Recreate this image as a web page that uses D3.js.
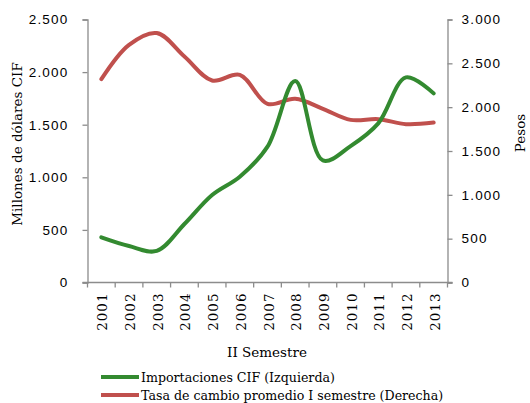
<!DOCTYPE html>
<html>
<head>
<meta charset="utf-8">
<script src="https://cdn.jsdelivr.net/npm/d3@7"></script>
<style>
  html, body { margin: 0; padding: 0; background: #fff; }
  svg { display: block; font-family: "DejaVu Serif", serif; }
</style>
</head>
<body>
<svg id="chart" width="530" height="403"></svg>
<script>
// Years of the second semester
const years = ["2001","2002","2003","2004","2005","2006","2007","2008","2009","2010","2011","2012","2013"];
// CIF imports, millions of dollars (left axis)
const importaciones = [430, 347, 300, 556, 832, 1006, 1291, 1915, 1160, 1297, 1513, 1950, 1798];
// Average exchange rate, first semester, pesos (right axis)
const tasaCambio = [2319, 2711, 2845, 2578, 2304, 2369, 2038, 2095, 1981, 1855, 1863, 1806, 1824];
const leftTicks = [0, 500, 1000, 1500, 2000, 2500];
const rightTicks = [0, 500, 1000, 1500, 2000, 2500, 3000];
const seriesNames = ["Importaciones CIF (Izquierda)", "Tasa de cambio promedio I semestre (Derecha)"];
const colors = ["#338a30", "#c0504d"];

const fmt = v => d3.format(",")(v).replace(/,/g, ".");

const svg = d3.select("#chart");
const m = { left: 87.5, right: 447.5, top: 19.5, bottom: 282.5 };
const axisColor = "#8c8c8c";

const x = d3.scaleBand().domain(years).range([m.left, m.right]);
const yL = d3.scaleLinear().domain([0, 2500]).range([m.bottom, m.top]);
const yR = d3.scaleLinear().domain([0, 3000]).range([m.bottom, m.top]);

function styleAxis(g) {
  g.selectAll("path, line").attr("stroke", axisColor).attr("stroke-width", 1.3);
  g.selectAll("text").attr("fill", "#000").attr("font-size", 13.5).attr("letter-spacing", 1.2);
}

// Left axis
svg.append("g").attr("transform", `translate(${m.left},0)`)
  .call(d3.axisLeft(yL).tickValues(leftTicks).tickFormat(fmt).tickSizeInner(5).tickSizeOuter(5).tickPadding(14))
  .call(styleAxis);

// Right axis
svg.append("g").attr("transform", `translate(${m.right},0)`)
  .call(d3.axisRight(yR).tickValues(rightTicks).tickFormat(fmt).tickSizeInner(5).tickSizeOuter(5).tickPadding(9))
  .call(styleAxis);

// Bottom axis with ticks at category boundaries
const xAxisG = svg.append("g").attr("transform", `translate(0,${m.bottom})`);
xAxisG.append("line")
  .attr("x1", m.left - 5).attr("x2", m.right + 5)
  .attr("stroke", axisColor).attr("stroke-width", 1.3);
const bounds = years.map(d => x(d)).concat([m.right]);
xAxisG.selectAll("line.tick").data(bounds).enter().append("line")
  .attr("class", "tick")
  .attr("x1", d => d).attr("x2", d => d).attr("y1", 0).attr("y2", 5)
  .attr("stroke", axisColor).attr("stroke-width", 1.3);
xAxisG.selectAll("text").data(years).enter().append("text")
  .attr("transform", d => `translate(${x(d) + x.bandwidth() / 2 + 6},10) rotate(-90)`)
  .attr("text-anchor", "end")
  .attr("font-size", 13.5)
  .attr("letter-spacing", 1)
  .text(d => d);

// Lines
const lineL = d3.line().x((d, i) => x(years[i]) + x.bandwidth() / 2).y(d => yL(d)).curve(d3.curveCatmullRom.alpha(0.5));
const lineR = d3.line().x((d, i) => x(years[i]) + x.bandwidth() / 2).y(d => yR(d)).curve(d3.curveCatmullRom.alpha(0.5));

svg.append("path").datum(tasaCambio).attr("d", lineR)
  .attr("fill", "none").attr("stroke", colors[1]).attr("stroke-width", 4).attr("stroke-linecap", "round");
svg.append("path").datum(importaciones).attr("d", lineL)
  .attr("fill", "none").attr("stroke", colors[0]).attr("stroke-width", 4).attr("stroke-linecap", "round");

// Axis titles
svg.append("text")
  .attr("transform", "translate(22,144) rotate(-90)")
  .attr("text-anchor", "middle").attr("font-size", 13.5)
  .text("Millones de dólares CIF");
svg.append("text")
  .attr("transform", "translate(525,133) rotate(-90)")
  .attr("text-anchor", "middle").attr("font-size", 13.5)
  .text("Pesos");
svg.append("text")
  .attr("x", 267).attr("y", 357)
  .attr("text-anchor", "middle").attr("font-size", 13.5)
  .text("II Semestre");

// Legend
const legend = svg.append("g");
seriesNames.forEach((name, i) => {
  const yy = 377 + i * 18;
  legend.append("line").attr("x1", 101).attr("x2", 139).attr("y1", yy).attr("y2", yy)
    .attr("stroke", colors[i]).attr("stroke-width", 4);
  legend.append("text").attr("x", 141).attr("y", yy + 5).attr("font-size", 12.6).text(name);
});
</script>
</body>
</html>
